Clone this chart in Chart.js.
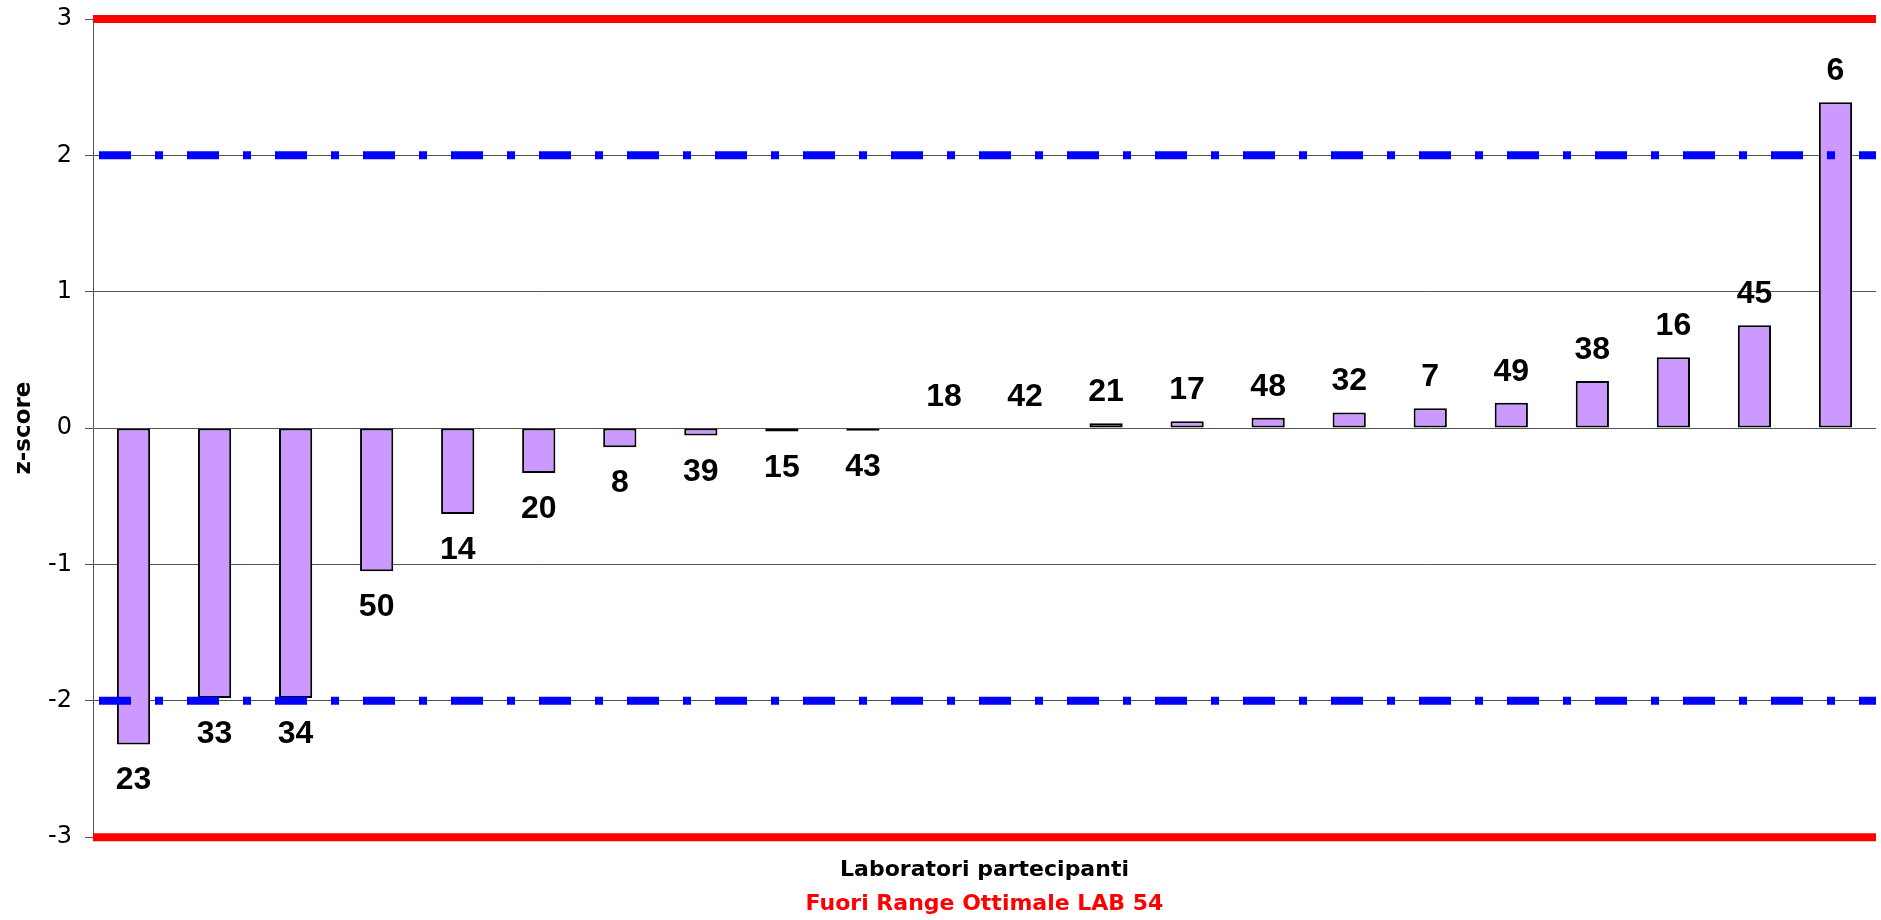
<!DOCTYPE html>
<html lang="it">
<head>
<meta charset="utf-8">
<title>z-score laboratori</title>
<script src="https://cdn.jsdelivr.net/npm/chart.js@4.4.1/dist/chart.umd.min.js"></script>
<style>
  html, body { margin: 0; padding: 0; background: #fff; }
  #wrap { width: 1881px; height: 920px; position: relative; }
</style>
</head>
<body>
<div id="wrap"><canvas id="zChart"></canvas></div>
<script>
// lab codes, in the order they appear on the chart
const labs = ["23", "33", "34", "50", "14", "20", "8", "39", "15", "43", "18",
  "42", "21", "17", "48", "32", "7", "49", "38", "16", "45", "6"];

// z-score per lab
const zScores = [-2.32, -1.98, -1.98, -1.05, -0.63, -0.33, -0.14, -0.055, -0.025,
  -0.02, 0, 0, 0.035, 0.05, 0.075, 0.115, 0.145, 0.185, 0.345, 0.52, 0.755, 2.39];

const outerLimits = [-3, 3];   // red lines
const innerLimits = [-2, 2];   // blue dash-dot lines
const yTicks = [-3, -2, -1, 0, 1, 2, 3];

const axisTitle = "Laboratori partecipanti";
const noteText = "Fuori Range Ottimale LAB 54";

function limitLine(value, color, dash) {
  return {
    type: "line",
    xAxisID: "xRef",
    data: [{ x: 0, y: value }, { x: 1, y: value }],
    borderColor: color,
    borderWidth: 8,
    borderDash: dash || [],
    borderDashOffset: dash ? 82 : 0,
    pointRadius: 0,
    clip: false,
    order: 0,
  };
}

// lab number above (or below, for negatives) each bar
const barLabels = {
  id: "barLabels",
  afterDatasetsDraw(chart) {
    const ctx = chart.ctx;
    const meta = chart.getDatasetMeta(0);
    ctx.save();
    ctx.font = "bold 32px 'Liberation Sans', Arial, sans-serif";
    ctx.fillStyle = "#000";
    ctx.textAlign = "center";
    ctx.textBaseline = "alphabetic";
    meta.data.forEach((bar, i) => {
      const y = zScores[i] < 0 ? bar.y + 45 : bar.y - 22;
      ctx.fillText(labs[i], bar.x, y);
    });
    ctx.restore();
  },
};

new Chart(document.getElementById("zChart"), {
  type: "bar",
  data: {
    labels: labs,
    datasets: [
      {
        data: zScores,
        backgroundColor: "#cc99ff",
        borderColor: "#000",
        borderWidth: 2,
        borderSkipped: false,
        grouped: false,
        categoryPercentage: 1,
        barPercentage: 0.41,
        order: 1,
      },
      ...outerLimits.map((v) => limitLine(v, "#ff0000")),
      ...innerLimits.map((v) => limitLine(v, "#0000ff", [32, 24, 8, 24])),
    ],
  },
  options: {
    responsive: true,
    maintainAspectRatio: false,
    animation: false,
    layout: { padding: { top: 19, right: 5, bottom: 0, left: 0 } },
    plugins: {
      legend: { display: false },
      tooltip: { enabled: false },
      subtitle: {
        display: true,
        text: noteText,
        position: "bottom",
        fullSize: false,
        color: "#ff0000",
        font: { family: "'DejaVu Sans'", size: 22, weight: "bold", lineHeight: 1.2 },
        padding: { top: 7, bottom: 3 },
      },
    },
    scales: {
      x: {
        grid: { display: false, drawTicks: false },
        border: { display: false },
        ticks: { display: false },
        title: {
          display: true,
          text: axisTitle,
          color: "#000",
          font: { family: "'DejaVu Sans'", size: 22, weight: "bold", lineHeight: 1.2 },
          padding: { top: 20, bottom: 0 },
        },
      },
      xRef: {
        type: "linear",
        display: false,
        offset: false,
        grid: { offset: false },
        min: 0,
        max: 1,
      },
      y: {
        min: yTicks[0],
        max: yTicks[yTicks.length - 1],
        afterBuildTicks: (scale) => {
          scale.ticks = yTicks.map((v) => ({ value: v }));
        },
        afterFit: (scale) => {
          scale.width = 93;
          scale.paddingTop = 0;
          scale.paddingBottom = 0;
        },
        grid: { color: "#555", lineWidth: 1, tickLength: 8 },
        border: { display: true, color: "#555", width: 1 },
        ticks: {
          color: "#000",
          padding: 13,
          font: { family: "'DejaVu Sans'", size: 24 },
        },
        title: {
          display: true,
          text: "z-score",
          color: "#000",
          font: { family: "'DejaVu Sans'", size: 23, weight: "bold", lineHeight: 1.2 },
          padding: { top: 10, bottom: 10 },
        },
      },
    },
  },
  plugins: [barLabels],
});
</script>
</body>
</html>
